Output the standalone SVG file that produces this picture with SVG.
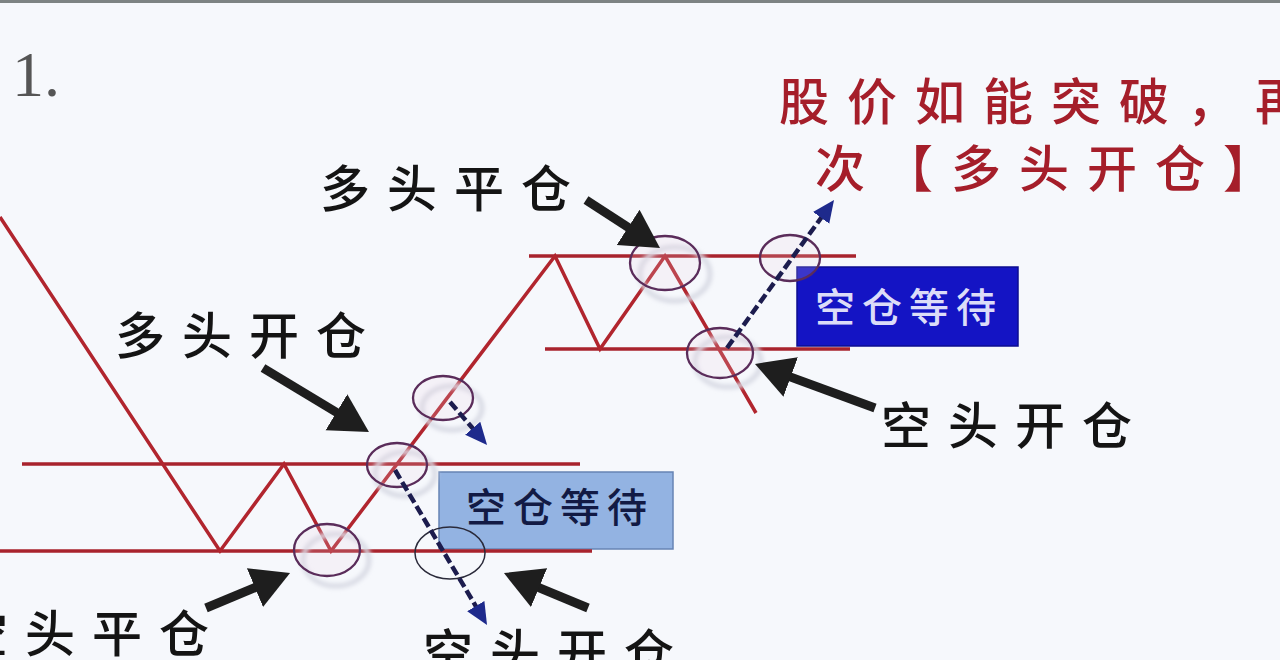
<svg xmlns="http://www.w3.org/2000/svg" width="1280" height="660" viewBox="0 0 1280 660">
<defs>
<style>
.bg{fill:#f6f8fc}
.price{fill:none;stroke:#b1252e;stroke-width:3.5;stroke-linejoin:miter}
.level{stroke:#a8232d;stroke-width:3.5}
.ring{fill:rgba(238,210,230,0.18);stroke:#5a2c5a;stroke-width:2.3}
.ring.thin{fill:none;stroke:#2a2a3a;stroke-width:1.5}
.shadow{fill:none;stroke:#d8dae4;stroke-width:5;filter:url(#blur)}
.big{stroke:#1e1e1e;stroke-width:9;marker-end:url(#bigHead)}
.dash{stroke:#1c1c4e;stroke-width:4.5;stroke-dasharray:10 4;marker-end:url(#blueHead)}
.lbl{font-family:"Noto Sans CJK SC","Noto Sans",sans-serif;font-size:50px;font-weight:500;fill:#141414;letter-spacing:17px}
.red{font-family:"Noto Sans CJK SC","Noto Sans",sans-serif;font-size:50px;font-weight:500;fill:#a51e2a;letter-spacing:18px}
.boxtxt{font-family:"Noto Sans CJK SC","Noto Sans",sans-serif;font-size:40px;font-weight:500;letter-spacing:7px}
</style>
<filter id="blur" x="-20%" y="-20%" width="140%" height="140%"><feGaussianBlur stdDeviation="2"/></filter>
<marker id="bigHead" markerUnits="userSpaceOnUse" viewBox="0 -22 40 44" markerWidth="40" markerHeight="44" refX="10" refY="0" orient="auto">
<path d="M0,-21 L38,0 L0,21 z" fill="#1e1e1e"/>
</marker>
<marker id="blueHead" markerUnits="userSpaceOnUse" viewBox="0 -12 24 24" markerWidth="24" markerHeight="24" refX="2" refY="0" orient="auto">
<path d="M0,-10 L22,0 L0,10 z" fill="#1e2a8c"/>
</marker>
</defs>
<rect class="bg" x="0" y="0" width="1280" height="660"/>
<rect x="0" y="0" width="1280" height="3" fill="#7d8383"/>

<g id="title-number"><text x="12" y="96" font-family="Liberation Serif, serif" font-size="64" fill="#555">1.</text></g>

<g id="box-wait-lower">
<rect x="439" y="472" width="234" height="77" fill="#93b3e2" stroke="#6784b4" stroke-width="1.5"/>
<text class="boxtxt" x="466" y="522" fill="#121a44">空仓等待</text>
</g>
<g id="box-wait-upper">
<rect x="797" y="267" width="221" height="79" fill="#1414c4" stroke="#0c0c90" stroke-width="1.5"/>
<text class="boxtxt" x="815" y="322" fill="#dcdcf8">空仓等待</text>
</g>

<g id="levels">
<line class="level" x1="22" y1="464" x2="580" y2="464"/>
<line class="level" x1="0" y1="551" x2="592" y2="551"/>
<line class="level" x1="529" y1="256" x2="856" y2="256"/>
<line class="level" x1="545" y1="349" x2="850" y2="349"/>
</g>

<g id="price-line">
<polyline class="price" points="0,217 220,551 284,464 331,551 555,256 600,349 665,256 756,413"/>
</g>

<g id="rings">
<ellipse class="shadow" cx="336" cy="560" rx="33" ry="26"/>
<ellipse class="ring" cx="327" cy="550" rx="33" ry="26"/>
<ellipse class="shadow" cx="405" cy="474" rx="30" ry="22"/>
<ellipse class="ring" cx="397" cy="465" rx="30" ry="22"/>
<ellipse class="shadow" cx="452" cy="408" rx="30" ry="22"/>
<ellipse class="ring" cx="443" cy="398" rx="30" ry="22"/>
<ellipse class="ring thin" cx="450" cy="553" rx="35" ry="26"/>
<ellipse class="shadow" cx="675" cy="274" rx="35" ry="27"/>
<ellipse class="ring" cx="665" cy="263" rx="35" ry="27"/>
<ellipse class="shadow" cx="728" cy="362" rx="33" ry="25"/>
<ellipse class="ring" cx="720" cy="353" rx="33" ry="25"/>
<ellipse class="ring" cx="790" cy="258" rx="30" ry="23"/>
</g>

<g id="connectors">
<line class="big" x1="263" y1="368" x2="345" y2="417.5"/>
<line class="big" x1="586" y1="200" x2="636.5" y2="232.8"/>
<line class="big" x1="206" y1="608" x2="264.2" y2="583.8"/>
<line class="big" x1="588" y1="608" x2="529.8" y2="583.8"/>
<line class="big" x1="875" y1="408" x2="781.3" y2="373.6"/>
<line class="dash" x1="395" y1="470" x2="476.8" y2="607.8"/>
<line class="dash" x1="450" y1="402" x2="474" y2="429.8"/>
<line class="dash" x1="727" y1="348" x2="822.3" y2="216.2"/>
</g>

<g id="label-long-close"><text class="lbl" x="320" y="207">多头平仓</text></g>
<g id="label-long-open"><text class="lbl" x="115" y="354">多头开仓</text></g>
<g id="label-short-close"><text class="lbl" x="-42" y="652">空头平仓</text></g>
<g id="label-short-open-lower"><text class="lbl" x="423" y="671">空头开仓</text></g>
<g id="label-short-open-upper"><text class="lbl" x="881" y="444">空头开仓</text></g>
<g id="note-breakout">
<text class="red" x="779" y="120">股价如能突破，再</text>
<text class="red" x="815" y="187">次【多头开仓】</text>
</g>
</svg>
